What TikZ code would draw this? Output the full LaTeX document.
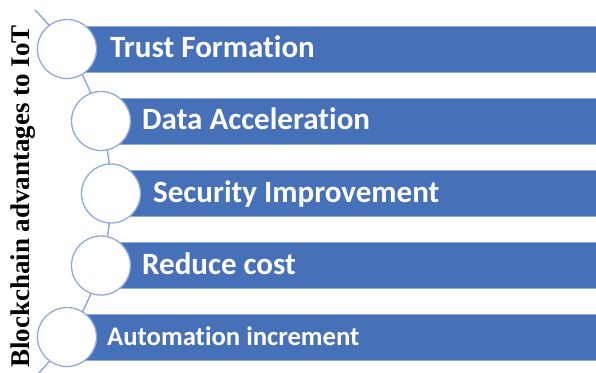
\documentclass[tikz,border=0pt]{standalone}
\usepackage{fontspec}
\usetikzlibrary{calc}
\setmainfont{Carlito}[Ligatures=NoCommon]
\newfontfamily\labelfont{Liberation Serif}
\definecolor{barblue}{HTML}{4670B8}
\definecolor{ringblue}{HTML}{8EA9DB}
\begin{document}
\begin{tikzpicture}[x=1pt,y=1pt,
  bar/.style={rectangle, fill=barblue, draw=ringblue, line width=0.7pt, minimum height=46pt, inner sep=0pt, anchor=west},
  ring/.style={circle, fill=white, draw=ringblue, line width=1.3pt, minimum size=59pt, inner sep=0pt},
  itemtext/.style={anchor=base west, text=white, font=\bfseries\fontsize{31}{36}\selectfont, inner sep=0pt},
  smalltext/.style={itemtext, font=\bfseries\fontsize{26.7}{32}\selectfont},
  sidelabel/.style={rotate=90, anchor=base, inner sep=0pt, font=\labelfont\bfseries\fontsize{27}{30}\selectfont}
]
\useasboundingbox (0,0) rectangle (596,-372);
\begin{scope}
\clip (0,0) rectangle (596,-372);
% bars
\node[bar, minimum width=540pt] (b1) at (67,-49) {};
\node[bar, minimum width=510pt] (b2) at (101,-121) {};
\node[bar, minimum width=500pt] (b3) at (111,-193.5) {};
\node[bar, minimum width=510pt] (b4) at (101,-265.5) {};
\node[bar, minimum width=540pt] (b5) at (67,-337) {};
% spine arc
\coordinate (arctop) at ($(-148.3,-193.5)+(45:259.3)$);
\draw[ringblue, line width=1.5pt] (arctop) arc[start angle=45, end angle=-47, radius=259.3];
\end{scope}
% circles
\node[ring] (c1) at (67,-49) {};
\node[ring] (c2) at (101,-121) {};
\node[ring] (c3) at (111,-193.5) {};
\node[ring] (c4) at (101,-265.5) {};
\node[ring] (c5) at (67,-337) {};
% texts
\node[itemtext] (t1) at (110,-57.5) {Trust Formation};
\node[itemtext] (t2) at (142,-129.5) {Data Acceleration};
\node[itemtext] (t3) at (153,-202) {Security Improvement};
\node[itemtext] (t4) at (142,-274) {Reduce cost};
\node[smalltext] (t5) at (107,-345) {Automation increment};
% side label
\node[sidelabel] (lbl) at (29.5,-196.5) {Blockchain advantages to IoT};
\end{tikzpicture}
\end{document}
